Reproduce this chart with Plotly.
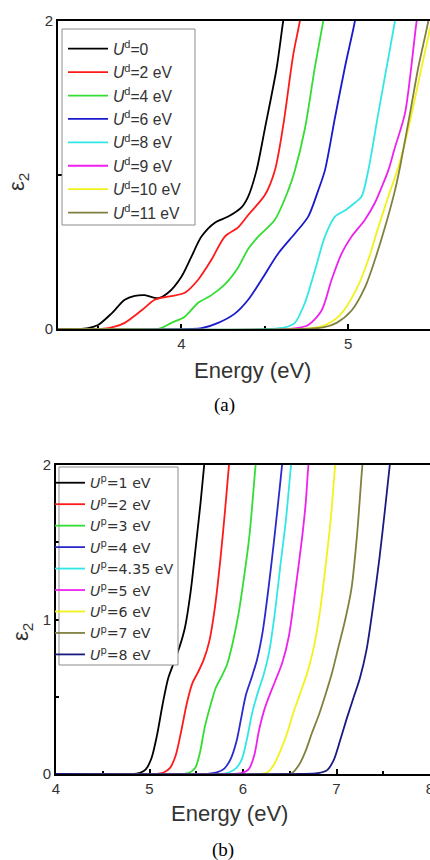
import plotly.graph_objects as go

# ---------------- Panel (a): U^d series ----------------
a_names = ["<i>U</i><sup>d</sup>=0", "<i>U</i><sup>d</sup>=2 eV", "<i>U</i><sup>d</sup>=4 eV",
           "<i>U</i><sup>d</sup>=6 eV", "<i>U</i><sup>d</sup>=8 eV", "<i>U</i><sup>d</sup>=9 eV",
           "<i>U</i><sup>d</sup>=10 eV", "<i>U</i><sup>d</sup>=11 eV"]
a_colors = ["#000000", "#ff1a1a", "#33dd33", "#1a1acc", "#33e6e6", "#ee22ee", "#f2f21a", "#808040"]

a_U0_E = [3.26, 3.38, 3.44, 3.50, 3.58, 3.66, 3.72, 3.78, 3.86, 3.92, 4.00, 4.06, 4.12, 4.20, 4.28, 4.36, 4.40, 4.45, 4.50, 4.57, 4.61, 4.64]
a_U0_eps = [0, 0, 0.006, 0.026, 0.10, 0.19, 0.215, 0.22, 0.20, 0.235, 0.34, 0.47, 0.60, 0.69, 0.73, 0.79, 0.86, 1.03, 1.30, 1.69, 2.0, 2.2]

a_U2_E = [3.26, 3.52, 3.60, 3.66, 3.76, 3.84, 3.92, 4.02, 4.10, 4.18, 4.26, 4.34, 4.40, 4.50, 4.56, 4.61, 4.67, 4.71, 4.74]
a_U2_eps = [0, 0, 0.015, 0.04, 0.12, 0.19, 0.21, 0.235, 0.32, 0.45, 0.60, 0.66, 0.74, 0.87, 1.03, 1.32, 1.78, 2.0, 2.2]

a_U4_E = [3.26, 3.86, 3.94, 4.02, 4.10, 4.18, 4.26, 4.34, 4.40, 4.46, 4.56, 4.64, 4.68, 4.74, 4.80, 4.85, 4.88]
a_U4_eps = [0, 0, 0.04, 0.08, 0.17, 0.22, 0.29, 0.40, 0.52, 0.60, 0.71, 0.90, 1.03, 1.30, 1.70, 2.0, 2.2]

a_U6_E = [3.26, 4.05, 4.12, 4.22, 4.32, 4.40, 4.48, 4.58, 4.68, 4.76, 4.82, 4.86, 4.92, 4.98, 5.04, 5.07]
a_U6_eps = [0, 0, 0.005, 0.04, 0.10, 0.19, 0.32, 0.49, 0.62, 0.73, 0.90, 1.03, 1.37, 1.70, 2.0, 2.2]

a_U8_E = [3.26, 4.53, 4.62, 4.68, 4.74, 4.80, 4.86, 4.92, 4.98, 5.04, 5.08, 5.12, 5.18, 5.22, 5.28, 5.31]
a_U8_eps = [0, 0, 0.01, 0.04, 0.17, 0.38, 0.60, 0.73, 0.77, 0.82, 0.86, 1.03, 1.40, 1.64, 2.0, 2.2]

a_U9_E = [3.26, 4.65, 4.76, 4.84, 4.90, 4.96, 5.02, 5.10, 5.16, 5.20, 5.24, 5.28, 5.34, 5.41, 5.44]
a_U9_eps = [0, 0, 0.026, 0.12, 0.32, 0.49, 0.60, 0.71, 0.82, 0.92, 1.03, 1.18, 1.40, 2.0, 2.2]

a_U10_E = [3.26, 4.72, 4.85, 4.95, 5.05, 5.12, 5.18, 5.24, 5.30, 5.36, 5.42, 5.49, 5.52]
a_U10_eps = [0, 0, 0.02, 0.09, 0.26, 0.45, 0.66, 0.86, 1.05, 1.30, 1.60, 1.95, 2.1]

a_U11_E = [3.26, 4.72, 4.85, 4.93, 5.02, 5.10, 5.16, 5.22, 5.28, 5.31, 5.37, 5.42, 5.48, 5.51]
a_U11_eps = [0, 0, 0.01, 0.04, 0.12, 0.27, 0.45, 0.66, 0.90, 1.05, 1.40, 1.70, 2.0, 2.2]

# ---------------- Panel (b): U^p series ----------------
b_names = ["<i>U</i><sup>p</sup>=1 eV", "<i>U</i><sup>p</sup>=2 eV", "<i>U</i><sup>p</sup>=3 eV",
           "<i>U</i><sup>p</sup>=4 eV", "<i>U</i><sup>p</sup>=4.35 eV", "<i>U</i><sup>p</sup>=5 eV",
           "<i>U</i><sup>p</sup>=6 eV", "<i>U</i><sup>p</sup>=7 eV", "<i>U</i><sup>p</sup>=8 eV"]
b_colors = ["#000000", "#ff1a1a", "#33dd33", "#2a2acc", "#33e6e6", "#ee22ee", "#f2f21a", "#808040", "#1a1a80"]

b_U1_E = [4.0, 4.80, 4.90, 4.96, 5.02, 5.08, 5.14, 5.20, 5.26, 5.32, 5.38, 5.44, 5.50, 5.545, 5.585, 5.62]
b_U1_eps = [0, 0, 0.008, 0.03, 0.10, 0.25, 0.45, 0.62, 0.72, 0.82, 0.95, 1.18, 1.5, 1.75, 2.0, 2.2]

b_U2_E = [4.0, 5.05, 5.15, 5.22, 5.28, 5.34, 5.40, 5.46, 5.52, 5.58, 5.64, 5.70, 5.76, 5.81, 5.85, 5.89]
b_U2_eps = [0, 0, 0.01, 0.04, 0.12, 0.28, 0.46, 0.59, 0.66, 0.74, 0.86, 1.08, 1.40, 1.72, 2.0, 2.25]

b_U3_E = [4.0, 5.34, 5.43, 5.49, 5.54, 5.59, 5.65, 5.71, 5.77, 5.83, 5.89, 5.95, 6.01, 6.07, 6.135, 6.17]
b_U3_eps = [0, 0, 0.01, 0.04, 0.14, 0.30, 0.44, 0.56, 0.63, 0.71, 0.85, 1.03, 1.27, 1.55, 2.0, 2.2]

b_U4_E = [4.0, 5.62, 5.72, 5.80, 5.87, 5.93, 5.98, 6.03, 6.09, 6.15, 6.21, 6.27, 6.33, 6.38, 6.418, 6.45]
b_U4_eps = [0, 0, 0.01, 0.035, 0.10, 0.21, 0.36, 0.51, 0.62, 0.74, 0.92, 1.19, 1.5, 1.78, 2.0, 2.2]

b_U435_E = [4.0, 5.72, 5.84, 5.93, 5.99, 6.04, 6.10, 6.16, 6.22, 6.28, 6.34, 6.40, 6.46, 6.514, 6.55]
b_U435_eps = [0, 0, 0.008, 0.04, 0.10, 0.22, 0.40, 0.53, 0.64, 0.79, 1.04, 1.35, 1.65, 2.0, 2.2]

b_U5_E = [4.0, 5.83, 5.98, 6.06, 6.12, 6.17, 6.23, 6.29, 6.35, 6.42, 6.49, 6.56, 6.63, 6.67, 6.70, 6.74]
b_U5_eps = [0, 0, 0.006, 0.03, 0.12, 0.28, 0.42, 0.52, 0.61, 0.72, 0.89, 1.19, 1.52, 1.75, 2.0, 2.2]

b_U6_E = [4.0, 6.19, 6.26, 6.33, 6.40, 6.47, 6.54, 6.61, 6.68, 6.75, 6.82, 6.88, 6.94, 6.986, 7.02]
b_U6_eps = [0, 0, 0.01, 0.06, 0.15, 0.26, 0.40, 0.52, 0.64, 0.80, 1.04, 1.33, 1.66, 2.0, 2.2]

b_U7_E = [4.0, 6.42, 6.52, 6.60, 6.67, 6.74, 6.81, 6.88, 6.95, 7.02, 7.09, 7.16, 7.22, 7.277, 7.31]
b_U7_eps = [0, 0, 0.005, 0.06, 0.15, 0.27, 0.38, 0.51, 0.65, 0.82, 0.99, 1.20, 1.55, 2.0, 2.2]

b_U8_E = [4.0, 6.60, 6.80, 6.90, 6.97, 7.04, 7.11, 7.18, 7.25, 7.32, 7.39, 7.46, 7.52, 7.57, 7.61]
b_U8_eps = [0, 0, 0.005, 0.025, 0.09, 0.22, 0.36, 0.49, 0.62, 0.80, 1.08, 1.40, 1.72, 2.0, 2.2]

a_series = [(a_U0_E, a_U0_eps), (a_U2_E, a_U2_eps), (a_U4_E, a_U4_eps), (a_U6_E, a_U6_eps),
            (a_U8_E, a_U8_eps), (a_U9_E, a_U9_eps), (a_U10_E, a_U10_eps), (a_U11_E, a_U11_eps)]
b_series = [(b_U1_E, b_U1_eps), (b_U2_E, b_U2_eps), (b_U3_E, b_U3_eps), (b_U4_E, b_U4_eps),
            (b_U435_E, b_U435_eps), (b_U5_E, b_U5_eps), (b_U6_E, b_U6_eps), (b_U7_E, b_U7_eps),
            (b_U8_E, b_U8_eps)]

W, H = 430, 860


def px_x(p):
    return p / W


def px_y(p):
    return 1 - p / H


fig = go.Figure()

for (xs, ys), name, col in zip(a_series, a_names, a_colors):
    fig.add_trace(go.Scatter(x=xs, y=ys, mode="lines", name=name,
                             line=dict(color=col, width=1.8, shape="spline", smoothing=0.8),
                             xaxis="x", yaxis="y", legend="legend"))
for (xs, ys), name, col in zip(b_series, b_names, b_colors):
    fig.add_trace(go.Scatter(x=xs, y=ys, mode="lines", name=name,
                             line=dict(color=col, width=1.8, shape="spline", smoothing=0.8),
                             xaxis="x2", yaxis="y2", legend="legend2"))

tickfont = dict(family="Liberation Sans, Arial, sans-serif", size=15, color="#333333")
axis_common = dict(showgrid=False, zeroline=False, showline=True, linecolor="#000000",
                   linewidth=2, ticks="inside", ticklen=5, tickwidth=1.5, tickcolor="#000000",
                   tickfont=tickfont, layer="below traces", ticklabeloverflow="allow",
                   automargin=False)

fig.update_layout(
    width=W, height=H,
    margin=dict(l=0, r=0, t=0, b=0, autoexpand=False),
    paper_bgcolor="white", plot_bgcolor="white",
    xaxis=dict(domain=[px_x(58), 1], range=[3.26, 5.49], anchor="y", mirror=True,
               tickvals=[4, 5], minor=dict(tickvals=[3.5, 4.5], ticks="inside", ticklen=3,
                                            tickcolor="#000000"),
               **axis_common),
    yaxis=dict(domain=[px_y(329), px_y(21)], range=[0, 2], anchor="x",
               tickvals=[0, 1, 2], ticktext=["0", "", "2"], **axis_common),
    xaxis2=dict(domain=[px_x(56), 1], range=[4.0, 8.0], anchor="y2", mirror=True,
                tickvals=[4, 5, 6, 7, 8],
                minor=dict(tickvals=[4.5, 5.5, 6.5, 7.5], ticks="inside", ticklen=3,
                           tickcolor="#000000"),
                **axis_common),
    yaxis2=dict(domain=[px_y(774), px_y(465)], range=[0, 2], anchor="x2",
                tickvals=[0, 1, 2],
                minor=dict(tickvals=[0.5, 1.5], ticks="inside", ticklen=3, tickcolor="#000000"),
                **axis_common),
    legend=dict(x=px_x(63), y=px_y(32), xanchor="left", yanchor="top",
                bgcolor="rgba(0,0,0,0)", borderwidth=0,
                font=dict(family="Liberation Sans, Arial, sans-serif", size=15.7, color="#333333"),
                itemwidth=40),
    legend2=dict(x=px_x(50), y=px_y(467), xanchor="left", yanchor="top",
                 bgcolor="rgba(0,0,0,0)", borderwidth=0,
                 font=dict(family="DejaVu Sans, sans-serif", size=14.2, color="#333333"),
                 itemwidth=30),
    showlegend=True,
)

# legend frames
fig.add_shape(type="rect", xref="paper", yref="paper", layer="above",
              x0=px_x(62), x1=px_x(195), y0=px_y(225), y1=px_y(29),
              line=dict(color="#8c8c8c", width=1), fillcolor="white")
fig.add_shape(type="rect", xref="paper", yref="paper", layer="above",
              x0=px_x(59), x1=px_x(178), y0=px_y(665), y1=px_y(467),
              line=dict(color="#8c8c8c", width=1), fillcolor="white")

lab = dict(family="Liberation Sans, Arial, sans-serif", size=22, color="#333333")
serif = dict(family="Liberation Serif, Times New Roman, serif", size=19, color="#000000")
annots = [
    dict(text="Energy (eV)", x=px_x(253), y=px_y(370), font=lab),
    dict(text="Energy (eV)", x=px_x(230), y=px_y(813), font=lab),
    dict(text="(a)", x=px_x(224), y=px_y(405), font=serif),
    dict(text="(b)", x=px_x(223), y=px_y(850), font=serif),
    dict(text="ε<sub>2</sub>", x=px_x(18), y=px_y(182), font=lab, textangle=-90),
    dict(text="ε<sub>2</sub>", x=px_x(22), y=px_y(632), font=lab, textangle=-90),
]
for a in annots:
    fig.add_annotation(xref="paper", yref="paper", showarrow=False,
                       xanchor="center", yanchor="middle", **a)

fig.write_html("out.html")
